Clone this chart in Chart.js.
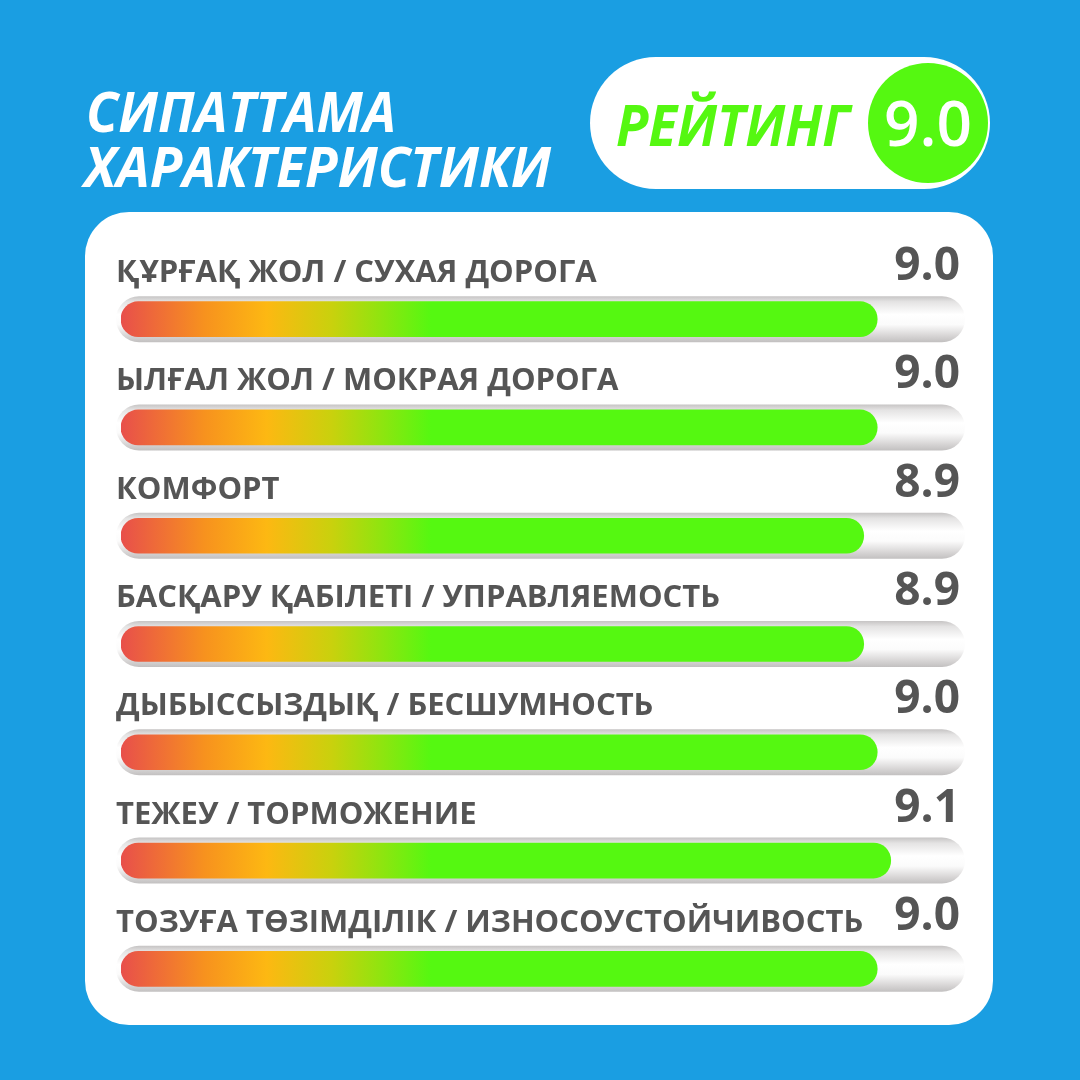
<!DOCTYPE html>
<html>
<head>
<meta charset="utf-8">
<script src="https://cdn.jsdelivr.net/npm/chart.js@4.4.1/dist/chart.umd.min.js"></script>
<style>
  body { margin: 0; background: #1a9ee2; }
  #wrap { width: 1080px; height: 1080px; }
</style>
</head>
<body>
<div id="wrap"><canvas id="rating" width="1080" height="1080"></canvas></div>
<script>
// --- data ---
const titleLines = ['СИПАТТАМА', 'ХАРАКТЕРИСТИКИ'];
const ratingTitle = 'РЕЙТИНГ';
const ratingValue = '9.0';
const categories = [
    'ҚҰРҒАҚ ЖОЛ / СУХАЯ ДОРОГА',
    'ЫЛҒАЛ ЖОЛ / МОКРАЯ ДОРОГА',
    'КОМФОРТ',
    'БАСҚАРУ ҚАБІЛЕТІ / УПРАВЛЯЕМОСТЬ',
    'ДЫБЫССЫЗДЫҚ / БЕСШУМНОСТЬ',
    'ТЕЖЕУ / ТОРМОЖЕНИЕ',
    'ТОЗУҒА ТӨЗІМДІЛІК / ИЗНОСОУСТОЙЧИВОСТЬ'
];
const scores = [9.0, 9.0, 8.9, 8.9, 9.0, 9.1, 9.0];
const scoreLabels = ['9.0', '9.0', '8.9', '8.9', '9.0', '9.1', '9.0'];

// visible part of the value axis (bars start at the left end)
const X_MIN = 3.4;
const X_MAX = 9.65;

const BLUE = '#1a9ee2';
const GREEN = '#55f811';
const GREY_TEXT = '#555555';
const FONT = "'Open Sans', 'Noto Sans', sans-serif";

function roundRect(ctx, x, y, w, h, r) {
    ctx.beginPath();
    ctx.moveTo(x + r, y);
    ctx.arcTo(x + w, y, x + w, y + h, r);
    ctx.arcTo(x + w, y + h, x, y + h, r);
    ctx.arcTo(x, y + h, x, y, r);
    ctx.arcTo(x, y, x + w, y, r);
    ctx.closePath();
}

// draw text squeezed/stretched to a given width
function fitText(ctx, text, x, y, width) {
    const w = ctx.measureText(text).width;
    ctx.save();
    ctx.translate(x, y);
    ctx.scale(width / w, 1);
    ctx.fillText(text, 0, 0);
    ctx.restore();
}

const backdrop = {
    id: 'backdrop',
    beforeDraw(chart) {
        const ctx = chart.ctx;
        ctx.save();
        ctx.fillStyle = BLUE;
        ctx.fillRect(0, 0, chart.width, chart.height);

        // title
        ctx.fillStyle = '#ffffff';
        ctx.textAlign = 'left';
        ctx.textBaseline = 'alphabetic';
        ctx.font = 'italic 700 55px ' + FONT;
        fitText(ctx, titleLines[0], 86, 132, 310);
        fitText(ctx, titleLines[1], 84, 187, 467);

        // rating pill
        ctx.fillStyle = '#ffffff';
        roundRect(ctx, 590, 57, 400, 132, 66);
        ctx.fill();
        ctx.fillStyle = GREEN;
        ctx.font = 'italic 700 58px ' + FONT;
        fitText(ctx, ratingTitle, 616, 146, 233);
        ctx.beginPath();
        ctx.arc(928, 123, 60, 0, Math.PI * 2);
        ctx.fill();
        ctx.fillStyle = '#ffffff';
        ctx.font = '600 64px ' + FONT;
        fitText(ctx, ratingValue, 884, 146, 88);

        // white panel
        ctx.fillStyle = '#ffffff';
        roundRect(ctx, 85, 212, 908, 813, 44);
        ctx.fill();
        ctx.restore();
    },
    beforeDatasetsDraw(chart) {
        const ctx = chart.ctx;
        const yScale = chart.scales.y;
        const left = chart.chartArea.left - 5;
        const right = chart.chartArea.right;
        ctx.save();
        categories.forEach((c, i) => {
            const yc = yScale.getPixelForValue(i);
            const top = yc - 23;
            const g = ctx.createLinearGradient(0, top, 0, top + 46);
            g.addColorStop(0, '#c6c4c4');
            g.addColorStop(0.12, '#e4e3e3');
            g.addColorStop(0.4, '#ffffff');
            g.addColorStop(0.62, '#fbfbfb');
            g.addColorStop(0.85, '#d9d7d7');
            g.addColorStop(1, '#c2c0c0');
            ctx.fillStyle = g;
            roundRect(ctx, left, top, right - left, 46, 23);
            ctx.fill();
        });
        ctx.restore();
    },
    afterDatasetsDraw(chart) {
        const ctx = chart.ctx;
        const yScale = chart.scales.y;
        ctx.save();
        ctx.fillStyle = GREY_TEXT;
        ctx.textBaseline = 'alphabetic';
        categories.forEach((c, i) => {
            const yc = yScale.getPixelForValue(i);
            ctx.textAlign = 'left';
            ctx.font = '700 31px ' + FONT;
            ctx.fillText(c, 116, yc - 37);
            ctx.textAlign = 'right';
            ctx.font = '700 46px ' + FONT;
            ctx.fillText(scoreLabels[i], 960, yc - 39);
        });
        ctx.restore();
    }
};

new Chart(document.getElementById('rating'), {
    type: 'bar',
    data: {
        labels: categories,
        datasets: [{
            data: scores,
            base: X_MIN,
            backgroundColor: (context) => {
                const area = context.chart.chartArea;
                if (!area) return GREEN;
                const g = context.chart.ctx.createLinearGradient(area.left, 0, area.left + 310, 0);
                g.addColorStop(0, '#e84f4b');
                g.addColorStop(0.27, '#f7921e');
                g.addColorStop(0.47, '#fdb812');
                g.addColorStop(0.68, '#c9d10d');
                g.addColorStop(1, GREEN);
                return g;
            },
            barThickness: 35,
            borderRadius: 17.5,
            borderSkipped: false
        }]
    },
    options: {
        indexAxis: 'y',
        responsive: false,
        animation: false,
        devicePixelRatio: 1,
        layout: { padding: { left: 121, right: 115, top: 265, bottom: 57 } },
        scales: {
            x: { display: false, min: X_MIN, max: X_MAX },
            y: { display: false }
        },
        plugins: {
            legend: { display: false },
            tooltip: { enabled: false }
        }
    },
    plugins: [backdrop]
});
</script>
</body>
</html>
